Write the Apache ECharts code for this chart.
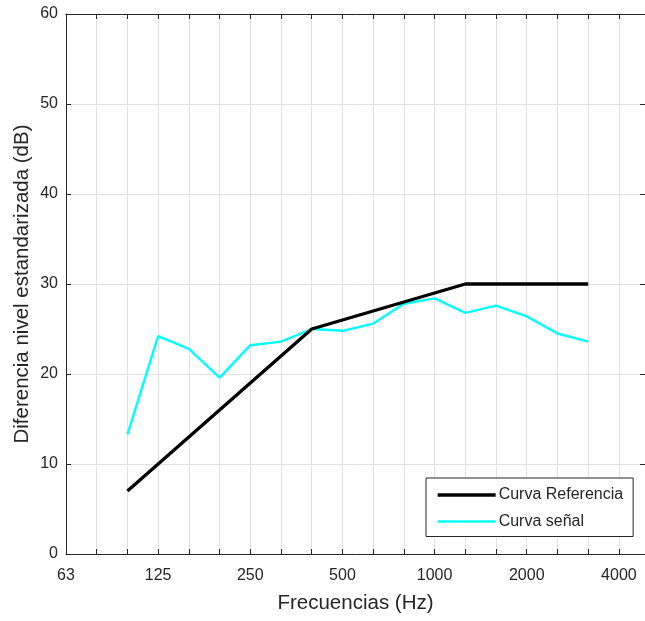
<!DOCTYPE html>
<html>
<head>
<meta charset="utf-8">
<script src="https://cdn.jsdelivr.net/npm/echarts@6/dist/echarts.min.js"></script>
<style>
  html, body { margin: 0; padding: 0; background: #fff; }
  #chart { width: 645px; height: 621px; }
</style>
</head>
<body>
<div id="chart"></div>
<script>
// Third-octave band centre frequencies (Hz), one axis step per band
const bands = ['63', '80', '100', '125', '160', '200', '250', '315', '400', '500',
               '630', '800', '1000', '1250', '1600', '2000', '2500', '3150', '4000'];
// Octave bands that carry a tick label
const tickLabels = ['63', '125', '250', '500', '1000', '2000', '4000'];

// Measured bands
const freqs = [100, 125, 160, 200, 250, 315, 400, 500, 630, 800, 1000, 1250, 1600, 2000, 2500, 3150];
// Shifted reference curve (dB)
const refCurve = [7, 10, 13, 16, 19, 22, 25, 26, 27, 28, 29, 30, 30, 30, 30, 30];
// Measured standardized level difference (dB)
const signalCurve = [13.3, 24.2, 22.8, 19.6, 23.2, 23.6, 25.0, 24.8, 25.6, 27.8, 28.4, 26.8, 27.6, 26.4, 24.5, 23.6];

const bandPos = f => bands.indexOf(String(f));
const toPoints = vals => freqs.map((f, i) => [bandPos(f), vals[i]]);

const axisColor = '#262626';
const gridColor = '#e2e2e2';
const font = 'Liberation Sans, Arial, Helvetica, sans-serif';

const chart = echarts.init(document.getElementById('chart'), null, { renderer: 'canvas' });

chart.setOption({
  animation: false,
  backgroundColor: '#ffffff',
  grid: { left: 66, top: 14, right: -1, bottom: 67, containLabel: false },
  xAxis: [
    {
      type: 'value',
      position: 'bottom',
      min: 0,
      max: 18.85,
      interval: 1,
      name: 'Frecuencias (Hz)',
      nameLocation: 'middle',
      nameGap: 39,
      nameMoveOverlap: false,
      nameTextStyle: { fontFamily: font, fontSize: 20.5, color: axisColor },
      axisLine: { show: true, onZero: false, lineStyle: { color: axisColor, width: 1 } },
      axisTick: { show: true, inside: true, length: 5, lineStyle: { color: axisColor } },
      axisLabel: {
        margin: 14,
        fontFamily: font,
        fontSize: 16,
        color: axisColor,
        showMaxLabel: false,
        formatter: v => (Number.isInteger(v) && tickLabels.includes(bands[v])) ? bands[v] : ''
      },
      splitLine: { show: true, lineStyle: { color: gridColor, width: 1 } }
    },
    {
      type: 'value',
      position: 'top',
      min: 0,
      max: 18.85,
      interval: 1,
      axisLine: { show: true, onZero: false, lineStyle: { color: axisColor, width: 1 } },
      axisTick: { show: true, inside: true, length: 5, lineStyle: { color: axisColor } },
      axisLabel: { show: false },
      splitLine: { show: false }
    }
  ],
  yAxis: [
    {
      type: 'value',
      position: 'left',
      min: 0,
      max: 60,
      interval: 10,
      name: 'Diferencia nivel estandarizada (dB)',
      nameLocation: 'middle',
      nameGap: 33,
      nameMoveOverlap: false,
      nameTextStyle: { fontFamily: font, fontSize: 20.5, color: axisColor },
      axisLine: { show: true, onZero: false, lineStyle: { color: axisColor, width: 1 } },
      axisTick: { show: true, inside: true, length: 5, lineStyle: { color: axisColor } },
      axisLabel: { margin: 8, fontFamily: font, fontSize: 16, color: axisColor, padding: [7, 0, 0, 0] },
      splitLine: { show: true, lineStyle: { color: gridColor, width: 1 } }
    },
    {
      type: 'value',
      position: 'right',
      min: 0,
      max: 60,
      interval: 10,
      axisLine: { show: true, onZero: false, lineStyle: { color: axisColor, width: 1 } },
      axisTick: { show: true, inside: true, length: 5, lineStyle: { color: axisColor } },
      axisLabel: { show: false },
      splitLine: { show: false }
    }
  ],
  legend: {
    orient: 'vertical',
    left: 426,
    top: 478,
    padding: [9, 10, 7, 10],
    itemWidth: 58,
    itemHeight: 14,
    itemGap: 10.5,
    backgroundColor: '#ffffff',
    borderColor: axisColor,
    borderWidth: 1,
    borderRadius: 0,
    icon: 'inherit',
    itemStyle: { opacity: 0 },
    lineStyle: { width: 'inherit' },
    textStyle: { fontFamily: font, fontSize: 16, color: axisColor, padding: [0, 0, 0, -2] },
    data: ['Curva Referencia', 'Curva señal']
  },
  series: [
    {
      name: 'Curva Referencia',
      type: 'line',
      data: toPoints(refCurve),
      symbol: 'none',
      lineStyle: { color: '#000000', width: 3.3 },
      itemStyle: { color: '#000000' },
      z: 3
    },
    {
      name: 'Curva señal',
      type: 'line',
      data: toPoints(signalCurve),
      symbol: 'none',
      lineStyle: { color: '#00ffff', width: 2.4 },
      itemStyle: { color: '#00ffff' },
      z: 2
    }
  ]
});
</script>
</body>
</html>
